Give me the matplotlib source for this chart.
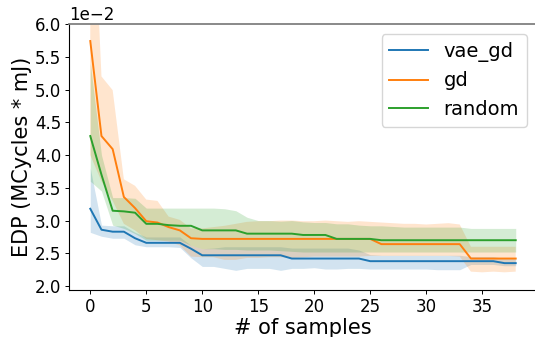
import matplotlib
matplotlib.use("Agg")
import matplotlib.pyplot as plt
import numpy as np

SCALE = 1e-2
samples = list(range(39))

vae_mean = [3.18, 2.86, 2.83, 2.83, 2.73, 2.66, 2.66, 2.66, 2.66, 2.57,
            2.47, 2.47, 2.47, 2.47, 2.47, 2.47, 2.47, 2.47, 2.42, 2.42,
            2.42, 2.42, 2.42, 2.42, 2.42, 2.38, 2.38, 2.38, 2.38, 2.38,
            2.38, 2.38, 2.38, 2.38, 2.38, 2.38, 2.38, 2.35, 2.35]
vae_upper = [3.80, 2.93, 2.92, 2.92, 2.82, 2.75, 2.75, 2.75, 2.75, 2.62,
             2.57, 2.58, 2.60, 2.60, 2.60, 2.60, 2.60, 2.60, 2.58, 2.58,
             2.58, 2.58, 2.58, 2.58, 2.55, 2.48, 2.47, 2.47, 2.47, 2.47,
             2.47, 2.47, 2.47, 2.47, 2.45, 2.45, 2.45, 2.42, 2.42]
vae_lower = [2.82, 2.76, 2.73, 2.73, 2.63, 2.60, 2.60, 2.60, 2.59, 2.43,
             2.30, 2.30, 2.27, 2.24, 2.27, 2.27, 2.27, 2.24, 2.27, 2.27,
             2.28, 2.26, 2.26, 2.27, 2.27, 2.26, 2.26, 2.26, 2.26, 2.26,
             2.26, 2.25, 2.25, 2.25, 2.33, 2.33, 2.33, 2.31, 2.31]

gd_mean = [5.74, 4.29, 4.09, 3.36, 3.19, 2.99, 2.97, 2.90, 2.85, 2.73,
           2.72, 2.72, 2.72, 2.72, 2.72, 2.72, 2.72, 2.72, 2.72, 2.72,
           2.72, 2.72, 2.72, 2.72, 2.72, 2.72, 2.64, 2.64, 2.64, 2.64,
           2.64, 2.64, 2.64, 2.64, 2.42, 2.42, 2.42, 2.42, 2.42]
gd_upper = [9.00, 5.20, 4.99, 3.63, 3.53, 3.32, 3.30, 3.06, 3.01, 2.88,
            2.88, 2.90, 2.92, 2.95, 2.98, 2.99, 2.99, 3.00, 3.00, 2.99,
            2.99, 3.00, 2.99, 2.98, 2.99, 2.98, 2.97, 2.96, 2.95, 2.95,
            2.94, 2.95, 2.96, 2.94, 2.60, 2.60, 2.60, 2.60, 2.60]
gd_lower = [4.00, 3.60, 3.30, 2.95, 2.85, 2.72, 2.70, 2.68, 2.62, 2.45,
            2.44, 2.44, 2.40, 2.40, 2.43, 2.43, 2.44, 2.44, 2.43, 2.44,
            2.45, 2.45, 2.45, 2.45, 2.45, 2.46, 2.46, 2.46, 2.46, 2.46,
            2.46, 2.46, 2.46, 2.45, 2.22, 2.21, 2.22, 2.21, 2.22]

random_mean = [4.29, 3.70, 3.15, 3.14, 3.12, 2.95, 2.95, 2.93, 2.92, 2.92,
               2.85, 2.85, 2.85, 2.85, 2.80, 2.80, 2.80, 2.80, 2.80, 2.78,
               2.78, 2.78, 2.72, 2.72, 2.72, 2.72, 2.70, 2.70, 2.70, 2.70,
               2.70, 2.70, 2.70, 2.70, 2.70, 2.70, 2.70, 2.70, 2.70]
random_upper = [5.40, 4.00, 3.35, 3.35, 3.34, 3.19, 3.19, 3.19, 3.19, 3.19,
                3.19, 3.19, 3.18, 3.15, 3.05, 3.00, 3.00, 2.99, 3.00, 2.98,
                2.97, 2.97, 2.95, 2.95, 2.93, 2.92, 2.92, 2.91, 2.90, 2.90,
                2.90, 2.90, 2.90, 2.90, 2.88, 2.88, 2.88, 2.88, 2.88]
random_lower = [3.60, 3.45, 2.93, 2.88, 2.80, 2.70, 2.70, 2.70, 2.70, 2.62,
                2.57, 2.57, 2.56, 2.56, 2.55, 2.55, 2.55, 2.54, 2.53, 2.52,
                2.52, 2.52, 2.52, 2.52, 2.52, 2.52, 2.52, 2.52, 2.52, 2.52,
                2.52, 2.52, 2.52, 2.52, 2.52, 2.52, 2.52, 2.52, 2.52]

series = [
    ("vae_gd", vae_mean, vae_lower, vae_upper, "#1f77b4"),
    ("gd", gd_mean, gd_lower, gd_upper, "#ff7f0e"),
    ("random", random_mean, random_lower, random_upper, "#2ca02c"),
]

W, H = 535, 337
fig = plt.figure(figsize=(W / 100, H / 100), dpi=100)
ax = fig.add_axes([69 / W, (H - 290) / H, (537 - 69) / W, (290 - 24) / H])

x = np.array(samples)
for name, m, lo, hi, c in series:
    ax.plot(x, np.array(m) * SCALE, color=c, lw=1.4, label=name)
    ax.fill_between(x, np.array(lo) * SCALE, np.array(hi) * SCALE,
                    color=c, alpha=0.2, lw=0)

ax.set_xlim(-1.9, 39.9)
ax.set_ylim(0.0194, 0.06)
ax.set_yticks(np.arange(0.02, 0.0601, 0.005))
ax.set_xticks(np.arange(0, 36, 5))
ax.ticklabel_format(style="sci", axis="y", scilimits=(0, 0))
ax.tick_params(labelsize=12, length=2.6, pad=2.8, width=0.7)
ax.yaxis.get_offset_text().set_fontsize(12)

ax.spines["right"].set_visible(False)
ax.spines["top"].set_color("#808080")
ax.spines["top"].set_linewidth(1.3)
for s in ("left", "bottom"):
    ax.spines[s].set_linewidth(0.8)

ax.set_xlabel("# of samples", fontsize=15, labelpad=2)
ax.set_ylabel("EDP (MCycles * mJ)", fontsize=15, labelpad=2)

ax.legend(loc="upper right", bbox_to_anchor=(527 / W, 1 - 34 / H),
          bbox_transform=fig.transFigure, fontsize=14, borderaxespad=0)

fig.savefig("out.png", dpi=100)
